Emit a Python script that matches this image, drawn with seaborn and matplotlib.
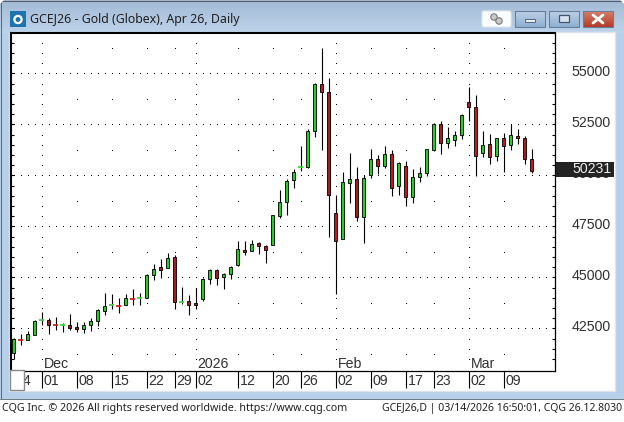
# Gold futures daily candlesticks in a CQG window
import numpy as np
import pandas as pd
import matplotlib
matplotlib.use('Agg')
import matplotlib.pyplot as plt
from matplotlib.patches import Rectangle, FancyBboxPatch, Polygon, Circle
import seaborn as sns

# Candle values, one entry per trading day
opens = [41290, 41960, 41950, 42175, 42880, 42930, 42675, 42640, 42685, 42590,
         42470, 42665, 42860, 43350, 43620, 43640, 43665, 43985, 43965, 43990,
         45135, 45490, 45460, 46015, 43800, 43860, 43760, 43940, 44940, 45380,
         45015, 45165, 45605, 46360, 46310, 46700, 46555, 46605, 48025, 48710,
         49790, 50395, 50405, 52190, 54495, 54080, 48170, 46880, 49625, 49840,
         47975, 50035, 50820, 50455, 51065, 49495, 50475, 48935, 49915, 50130,
         51225, 52500, 51580, 51750, 51995, 53610, 53365, 51095, 51555, 50965,
         51845, 51505, 51945, 51845, 50800]
highs = [42010, 42210, 42360, 42895, 43290, 42990, 43040, 42750, 43190, 42800,
         42800, 42990, 43435, 44220, 44170, 43975, 44170, 44415, 44220, 45150,
         45640, 45885, 46180, 46080, 44510, 44155, 44495, 44970, 45395, 45430,
         45200, 45575, 46765, 46765, 46850, 46715, 46570, 48065, 49265, 49805,
         50295, 51455, 52290, 54525, 56255, 54785, 49055, 50195, 51125, 50440,
         50000, 51275, 51015, 51455, 51225, 50685, 50720, 50330, 50440, 51310,
         52580, 52680, 52400, 52205, 52990, 54360, 53955, 52205, 52045, 51845,
         52105, 52500, 52300, 51945, 51310]
lows = [40980, 41670, 41915, 42160, 42650, 42210, 42450, 42310, 42450, 42310,
        42260, 42360, 42600, 43140, 43435, 43240, 43630, 43630, 43630, 43975,
        44855, 44955, 45445, 43450, 43680, 43155, 43450, 43840, 44660, 44610,
        44430, 44905, 45555, 46095, 46290, 46130, 45705, 46585, 47930, 48040,
        49365, 50210, 50390, 51910, 51260, 46975, 44170, 46880, 48645, 47760,
        46685, 49885, 50050, 50345, 48985, 49035, 48495, 48645, 49670, 49965,
        51190, 51045, 51340, 51435, 51765, 52695, 49965, 50895, 50555, 50700,
        50160, 51240, 51535, 50555, 50145]
closes = [42000, 41940, 42240, 42850, 42910, 42665, 42655, 42660, 42520, 42490,
          42685, 42880, 43420, 43615, 43640, 43620, 44010, 43965, 43985, 45135,
          45430, 45360, 45950, 43790, 43820, 43645, 43645, 44940, 45380, 44970,
          45185, 45525, 46410, 46240, 46655, 46535, 46360, 48040, 48690, 49740,
          50180, 50415, 52190, 54495, 54080, 49055, 46800, 49690, 49840, 47975,
          49885, 50820, 50475, 51065, 49395, 50620, 48935, 49935, 50130, 51310,
          52500, 51600, 51845, 51995, 52975, 53365, 50965, 51505, 50895, 51815,
          51455, 51995, 51830, 50800, 50231]

# Axis labels
price_labels = ['42500', '45000', '47500', '50000', '52500', '55000']
price_ticks = [42500, 45000, 47500, 50000, 52500, 55000]
day_ticks = [0, 4, 9, 14, 19, 23, 26, 32, 37, 41, 46, 51, 56, 60, 65, 70]
day_labels = ['24', '01', '08', '15', '22', '29', '02', '12', '20', '26',
              '02', '09', '17', '23', '02', '09']
month_ticks = [4, 26, 46, 65]
month_labels = ['Dec', '2026', 'Feb', 'Mar']
last_price = '50231'

# Shade of the darker red candles
dark_red_days = [5, 8, 9, 21, 23, 25, 26, 29, 33, 35, 45, 49, 61, 65, 73]

GREEN = '#22d022'
RED = '#d01414'
DARK_RED = '#a81c1c'
W, H = 624, 422

sns.set_style('white')
plt.rcParams['font.family'] = ['Liberation Sans', 'DejaVu Sans']

df = pd.DataFrame({'open': opens, 'high': highs, 'low': lows, 'close': closes})
df['day'] = df.index
df['top'] = df[['open', 'close']].max(axis=1)
df['bottom'] = df[['open', 'close']].min(axis=1)
df['doji'] = (df['top'] - df['bottom']) < 60
df['up'] = df['close'] > df['open']
df['dark'] = df['day'].isin(dark_red_days)

fig = plt.figure(figsize=(W / 100, H / 100), dpi=100)


def pixel_axes(zorder):
    # full figure axes in image pixels, for the window parts
    a = fig.add_axes([0, 0, 1, 1], zorder=zorder)
    a.set_xlim(0, W)
    a.set_ylim(H, 0)
    a.axis('off')
    a.patch.set_alpha(0)
    return a


# Window frame behind the chart
chrome = pixel_axes(0)
chrome.add_patch(Rectangle((0, 0), W, 399, color='#b7cfe9', lw=0))
grad = np.linspace(0, 1, 33).reshape(-1, 1)
title_cmap = matplotlib.colors.LinearSegmentedColormap.from_list('t', ['#a3bad6', '#bdd3ea'])
chrome.imshow(grad, extent=(0, W, 33, 0), aspect='auto', cmap=title_cmap, zorder=1)
chrome.set_xlim(0, W)
chrome.set_ylim(H, 0)
chrome.plot([0, W], [0.5, 0.5], color='#555e68', lw=0.8, zorder=2)
chrome.plot([0.5, 0.5], [0, 399], color='#59636e', lw=0.7, zorder=2)
chrome.plot([W - 0.5, W - 0.5], [0, 399], color='#59636e', lw=0.7, zorder=2)
chrome.add_patch(Rectangle((0, 399), W, H - 399, color='white', lw=0, zorder=2))
chrome.plot([0, W], [398.7, 398.7], color='#6d7883', lw=0.7, zorder=3)
chrome.add_patch(Rectangle((9, 32), 606, 358.5, facecolor='white', edgecolor='#dfe5ea', lw=1, zorder=2))
chrome.add_patch(Polygon([(0, 0), (3, 0), (0, 3)], color='white', zorder=4))
chrome.add_patch(Polygon([(W, 0), (W - 3, 0), (W, 3)], color='white', zorder=4))

# Window icon and title
chrome.add_patch(Rectangle((10, 11), 16, 16, color='#1f74ad', lw=0, zorder=3))
chrome.add_patch(Circle((18, 19.5), 3.6, facecolor='none', edgecolor='white', lw=1.6, zorder=4))
chrome.text(30.5, 20, 'GCEJ26 - Gold (Globex), Apr 26, Daily', fontsize=8.9, family='Noto Sans',
            color='#202020', va='center', zorder=4)

# Buttons in the title bar
chrome.add_patch(FancyBboxPatch((482, 11), 29, 16, boxstyle='round,pad=0,rounding_size=2',
                                facecolor='#fbfcfd', edgecolor='#dfe8f0', lw=0.8, zorder=3))
chrome.add_patch(Circle((494, 17), 3.2, facecolor='#c9c9c9', edgecolor='#777777', lw=0.8, zorder=4))
chrome.add_patch(Circle((499, 21), 3.2, facecolor='#c9c9c9', edgecolor='#777777', lw=0.8, zorder=4))
for left, right, top_col, low_col in [(515, 545, '#bdd0e5', '#8fb0d2'), (549, 579, '#bdd0e5', '#8fb0d2'),
                                      (583, 613, '#d67f68', '#b23c2b')]:
    cmap = matplotlib.colors.LinearSegmentedColormap.from_list('b', [top_col, low_col])
    chrome.imshow(grad, extent=(left, right, 27, 11), aspect='auto', cmap=cmap, zorder=3)
    chrome.add_patch(Rectangle((left, 11), right - left, 16, facecolor='none', edgecolor='#66809c', lw=0.8, zorder=4))
chrome.set_xlim(0, W)
chrome.set_ylim(H, 0)
chrome.add_patch(Rectangle((525, 19), 10, 3, facecolor='#e8eef4', edgecolor='#55677b', lw=0.7, zorder=5))
chrome.add_patch(Rectangle((559, 15), 10, 7, facecolor='#d6e2ee', edgecolor='#45566a', lw=0.9, zorder=5))
chrome.plot([593, 603], [15, 23], color='white', lw=2, zorder=5)
chrome.plot([593, 603], [23, 15], color='white', lw=2, zorder=5)

# Footer lines
chrome.text(2, 408, 'CQG Inc. © 2026 All rights reserved worldwide. https://www.cqg.com', fontsize=7.7,
            family='Noto Sans', color='#202020', va='center', zorder=4)
chrome.text(622, 408, 'GCEJ26,D | 03/14/2026 16:50:01, CQG 26.12.8030', fontsize=7.5,
            family='Noto Sans', color='#202020', va='center', ha='right', zorder=4)

# Price chart, axes set so a day is 7 pixels wide
ax = fig.add_axes([10.5 / W, 1 - 371.3 / H, 544 / W, 338.3 / H], zorder=1)
ax.set_facecolor('white')

# Dotted grid: every day along the round prices, sparser along the week lines
all_days = np.arange(0, 78)
minor_prices = np.arange(41000, 57000, 500)
mid_prices = np.arange(41250, 57000, 2500)
grid_x = [all_days.repeat(len(price_ticks))]
grid_y = [np.tile(price_ticks, len(all_days))]
for d in day_ticks[1:]:
    rows = minor_prices if d in [4, 26, 46, 65] else mid_prices
    grid_x.append(np.full(len(rows), d))
    grid_y.append(rows)
sns.scatterplot(x=np.concatenate(grid_x), y=np.concatenate(grid_y), marker='s', s=0.52, color='black',
                linewidth=0, ax=ax, zorder=1)
ax.collections[0].set_snap(False)  # one pixel dots, snapping makes them vanish or double

# Wicks
ax.vlines(df['day'], df['low'], df['high'], color='black', lw=0.8, zorder=2)


def draw_bodies(sub, color):
    # seaborn widens bars by the gap between the days, keep them the same size
    gap = np.diff(sub['day']).min()
    sns.barplot(x=sub['day'].values, y=(sub['top'] - sub['bottom']).values, bottom=sub['bottom'].values,
                native_scale=True, color=color, saturation=1, width=0.56 / gap, errorbar=None,
                edgecolor='black', linewidth=0.62, ax=ax, zorder=3)


bodies = df[~df['doji']]
draw_bodies(bodies[bodies['up']], GREEN)
draw_bodies(bodies[~bodies['up'] & bodies['dark']], DARK_RED)
draw_bodies(bodies[~bodies['up'] & ~bodies['dark']], RED)

# Days with almost no body are a short coloured dash
dojis = df[df['doji']]
ax.hlines(dojis['close'], dojis['day'] - 0.36, dojis['day'] + 0.36,
          color=[('#38d838' if u else '#d81c1c') for u in dojis['up']], lw=1.3, zorder=4)

ax.set_xlim(-3 / 7, 541 / 7)
ax.set_ylim(40401, 56985)
ax.set_xlabel('')
ax.set_ylabel('')

ax.set_xticks(day_ticks)
ax.set_xticklabels([])
ax.tick_params(axis='x', which='major', bottom=True, length=12.2, width=0.8, color='black')
for d, lab in zip(day_ticks, day_labels):
    ax.annotate(lab, (d, 0), xycoords=ax.get_xaxis_transform(), xytext=(1.6, -7), textcoords='offset points',
                ha='left', va='center', fontsize=10.2, color='#303030')
for d, lab in zip(month_ticks, month_labels):
    ax.annotate(lab, (d, 0), xycoords=ax.get_xaxis_transform(), xytext=(1.6, 5), textcoords='offset points',
                ha='left', va='center', fontsize=10.2, color='#303030')

ax.set_yticks(price_ticks)
ax.set_yticklabels([])
ax.set_yticks(minor_prices, minor=True)
ax.tick_params(axis='y', which='both', left=True, right=True, direction='in', length=2.4, width=0.8, color='black')
for p, lab in zip(price_ticks, price_labels):
    ax.annotate(lab, (1, p), xycoords=ax.get_yaxis_transform(), xytext=(12.3, 1), textcoords='offset points',
                ha='left', va='center', fontsize=10.2, color='#303030', annotation_clip=False)

for name, lw in [('left', 1.5), ('top', 1.5), ('right', 0.9), ('bottom', 0.9)]:
    ax.spines[name].set_visible(True)
    ax.spines[name].set_color('black')
    ax.spines[name].set_linewidth(lw)

# Things that sit on top of the chart
over = pixel_axes(2)
over.add_patch(Rectangle((555.5, 162), 58, 14.5, color='#232323', lw=0))
over.text(612, 169, last_price, fontsize=10.2, color='#ececec', ha='right', va='center')
over.add_patch(Rectangle((9.5, 369.5), 14, 20, facecolor='white', edgecolor='#8a8a8a', lw=1))

fig.savefig('out.png', dpi=100)
